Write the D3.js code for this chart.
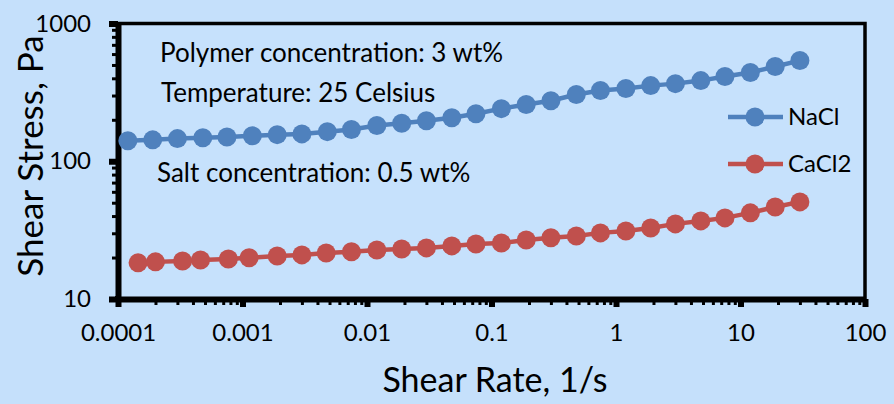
<!DOCTYPE html>
<html>
<head>
<meta charset="utf-8">
<script src="https://cdn.jsdelivr.net/npm/d3@7"></script>
<style>
  html, body { margin: 0; padding: 0; background: #c5e0fb; }
  svg { display: block; }
  text { font-family: Lato, "Open Sans", sans-serif; fill: #000; }
</style>
</head>
<body>
<svg id="chart" width="894" height="404"></svg>
<script>
// ---- data ----
const naclRate = [0.00012, 0.00019, 0.0003, 0.00048, 0.00075, 0.0012, 0.0019, 0.003, 0.0048, 0.0075,
                  0.012, 0.019, 0.03, 0.048, 0.075, 0.12, 0.19, 0.3, 0.48, 0.75,
                  1.2, 1.9, 3, 4.8, 7.5, 12, 19, 30];
const naclStress = [141, 143, 146, 148, 150, 153, 156, 158, 164, 170,
                    182, 189, 197, 207, 221, 241, 258, 275, 305, 326,
                    337, 354, 366, 385, 412, 441, 487, 538];
const cacl2Rate = [0.000145, 0.0002, 0.00033, 0.00046, 0.00077, 0.00113, 0.0019, 0.003, 0.0047, 0.0075,
                   0.012, 0.019, 0.03, 0.048, 0.075, 0.12, 0.19, 0.3, 0.48, 0.75,
                   1.2, 1.9, 3, 4.8, 7.5, 12, 19, 30];
const cacl2Stress = [18.3, 18.6, 18.9, 19.2, 19.5, 19.9, 20.5, 20.9, 21.6, 22.0,
                     22.7, 23.1, 23.5, 24.3, 25.1, 25.5, 26.8, 27.8, 28.7, 30.2,
                     31.2, 32.8, 35.1, 36.9, 38.8, 42.2, 46.6, 50.7];
const seriesNames = ["NaCl", "CaCl2"];
const seriesColors = ["#4f81bd", "#c0504d"];
const xTickValues = [0.0001, 0.001, 0.01, 0.1, 1, 10, 100];
const xTickLabels = ["0.0001", "0.001", "0.01", "0.1", "1", "10", "100"];
const yTickValues = [10, 100, 1000];
const yTickLabels = ["10", "100", "1000"];
const notes = ["Polymer concentration: 3 wt%", "Temperature: 25 Celsius", "Salt concentration: 0.5 wt%"];
const xTitle = "Shear Rate, 1/s";
const yTitle = "Shear Stress, Pa";

// ---- layout ----
const L = 118, R = 865, T = 23.5, B = 299;
const svg = d3.select("#chart");
svg.append("rect").attr("width", 894).attr("height", 404).attr("fill", "#c5e0fb");

const x = d3.scaleLog().domain([1e-4, 100]).range([L, R]);
const y = d3.scaleLog().domain([10, 1000]).range([B, T]);

// frame (top/right)
svg.append("rect").attr("x", L).attr("y", T).attr("width", R - L).attr("height", B - T)
  .attr("fill", "#c6e1fc").attr("stroke", "#000").attr("stroke-width", 3.5);

// minor ticks
const xMinor = [];
for (let e = -4; e < 2; e++) for (let m = 2; m <= 9; m++) xMinor.push(m * Math.pow(10, e));
const yMinor = [];
for (let e = 1; e < 3; e++) for (let m = 2; m <= 9; m++) yMinor.push(m * Math.pow(10, e));

const gxMinor = svg.append("g").attr("transform", `translate(0,${B})`)
  .call(d3.axisBottom(x).tickValues(xMinor).tickSize(6).tickSizeOuter(0).tickFormat(""));
gxMinor.selectAll(".tick line").attr("stroke", "#000").attr("stroke-width", 3);
gxMinor.select(".domain").remove();

const gyMinor = svg.append("g").attr("transform", `translate(${L},0)`)
  .call(d3.axisLeft(y).tickValues(yMinor).tickSize(6).tickSizeOuter(0).tickFormat(""));
gyMinor.selectAll(".tick line").attr("stroke", "#000").attr("stroke-width", 3);
gyMinor.select(".domain").remove();

// major axes
const gx = svg.append("g").attr("transform", `translate(0,${B})`)
  .call(d3.axisBottom(x).tickValues(xTickValues).tickSize(8).tickSizeOuter(0).tickPadding(17)
    .tickFormat((d, i) => xTickLabels[i]));
gx.select(".domain").attr("stroke", "#000").attr("stroke-width", 6);
gx.selectAll(".tick line").attr("stroke", "#000").attr("stroke-width", 6);
gx.selectAll(".tick text").attr("font-size", 24);

const gy = svg.append("g").attr("transform", `translate(${L},0)`)
  .call(d3.axisLeft(y).tickValues(yTickValues).tickSize(9).tickSizeOuter(0).tickPadding(18)
    .tickFormat((d, i) => yTickLabels[i]));
gy.select(".domain").attr("stroke", "#000").attr("stroke-width", 6);
gy.selectAll(".tick line").attr("stroke", "#000").attr("stroke-width", 6);
gy.selectAll(".tick text").attr("font-size", 24);

// corner fill for thick axis
svg.append("rect").attr("x", L - 3).attr("y", B - 3).attr("width", 6).attr("height", 6).attr("fill", "#000");

// titles
svg.append("text").attr("x", 495).attr("y", 392).attr("text-anchor", "middle")
  .attr("font-size", 34).text(xTitle);
svg.append("text").attr("transform", "translate(43,156) rotate(-90)").attr("text-anchor", "middle")
  .attr("font-size", 35).text(yTitle);

// notes
const notePos = [[160, 62], [161, 102], [157, 182]];
notes.forEach((t, i) => {
  svg.append("text").attr("x", notePos[i][0]).attr("y", notePos[i][1]).attr("font-size", 26).text(t);
});

// series
const series = [
  { name: seriesNames[0], color: seriesColors[0], pts: naclRate.map((r, i) => [r, naclStress[i]]) },
  { name: seriesNames[1], color: seriesColors[1], pts: cacl2Rate.map((r, i) => [r, cacl2Stress[i]]) }
];
const line = d3.line().x(d => x(d[0])).y(d => y(d[1]));
series.forEach(s => {
  const g = svg.append("g");
  g.append("path").attr("d", line(s.pts)).attr("fill", "none").attr("stroke", s.color).attr("stroke-width", 4.5);
  g.selectAll("circle").data(s.pts).join("circle")
    .attr("cx", d => x(d[0])).attr("cy", d => y(d[1])).attr("r", 9.5).attr("fill", s.color);
});

// legend
const legY = [117, 164];
series.forEach((s, i) => {
  const g = svg.append("g").attr("transform", `translate(0,${legY[i]})`);
  g.append("line").attr("x1", 728).attr("x2", 783).attr("stroke", s.color).attr("stroke-width", 4.5);
  g.append("circle").attr("cx", 755).attr("r", 9.5).attr("fill", s.color);
  g.append("text").attr("x", 788).attr("y", 8).attr("font-size", 24).text(s.name);
});
</script>
</body>
</html>
